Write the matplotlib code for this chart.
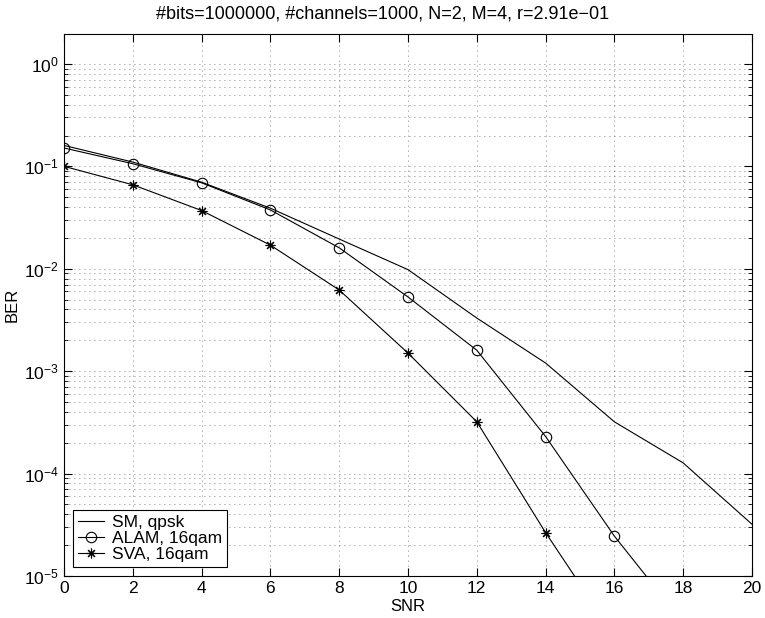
import matplotlib
matplotlib.use("Agg")
import matplotlib.pyplot as plt
from matplotlib.ticker import LogLocator, NullFormatter

plt.rcParams['font.family'] = ['Liberation Sans', 'DejaVu Sans']
plt.rcParams['mathtext.fontset'] = 'custom'
plt.rcParams['mathtext.rm'] = 'Liberation Sans'

# data
snr = [0, 2, 4, 6, 8, 10, 12, 14, 16, 18, 20]
ber_sm = [0.16, 0.11, 0.070, 0.039, 0.0195, 0.0098, 0.0033, 0.0012, 3.2e-4, 1.27e-4, 3.2e-5]
snr_alam = [0, 2, 4, 6, 8, 10, 12, 14, 16, 18]
ber_alam = [0.151, 0.106, 0.069, 0.0375, 0.016, 0.0053, 0.0016, 2.3e-4, 2.45e-5, 3.5e-6]
snr_sva = [0, 2, 4, 6, 8, 10, 12, 14, 16]
ber_sva = [0.1, 0.066, 0.037, 0.017, 0.0062, 0.0015, 3.2e-4, 2.65e-5, 2.6e-6]

title = "#bits=1000000, #channels=1000, N=2, M=4, r=2.91e\u221201"

fig = plt.figure(figsize=(7.65, 6.18), dpi=100)
ax = fig.add_axes([0.0837, 0.068, 0.8993, 0.877])

ax.semilogy(snr, ber_sm, '-', color='black', lw=0.8, label='SM, qpsk')
ax.semilogy(snr_alam, ber_alam, '-o', color='black', lw=0.8, ms=7.5,
            mfc='none', mew=0.8, label='ALAM, 16qam')
ax.semilogy(snr_sva, ber_sva, '-', marker=(8, 2, 0), color='black', lw=0.8,
            ms=7, mew=0.8, label='SVA, 16qam')

ax.set_xlim(0, 20)
ax.set_ylim(1e-5, 1.96)
ax.set_xticks(range(0, 21, 2))
ax.yaxis.set_major_locator(LogLocator(base=10, numticks=10))
ax.yaxis.set_minor_locator(LogLocator(base=10, subs=range(2, 10), numticks=20))
ax.yaxis.set_minor_formatter(NullFormatter())

ax.grid(True, which='major', linestyle=(0, (1, 5)), color='0.35', lw=0.6)
ax.grid(True, which='minor', axis='y', linestyle=(0, (1, 5)), color='0.35', lw=0.6)
ax.tick_params(which='both', direction='in', top=True, right=True, labelsize=12.5)
ax.tick_params(which='major', length=6, width=0.8)
ax.tick_params(which='minor', length=3, width=0.6)
for s in ax.spines.values():
    s.set_linewidth(0.8)

# title is centred on the figure, not on the axes
fig.suptitle(title, fontsize=13, x=0.5, y=0.978, va='center')
ax.set_xlabel("SNR", fontsize=12, labelpad=2)
ax.set_ylabel("BER", fontsize=12, labelpad=3)

leg = ax.legend(loc='lower left', fontsize=12.5, fancybox=False, framealpha=1,
                edgecolor='black', borderaxespad=0.5, handlelength=1.5,
                handletextpad=0.45, borderpad=0.3, labelspacing=0.05)
leg.get_frame().set_linewidth(0.8)

fig.savefig("out.png", dpi=100)
